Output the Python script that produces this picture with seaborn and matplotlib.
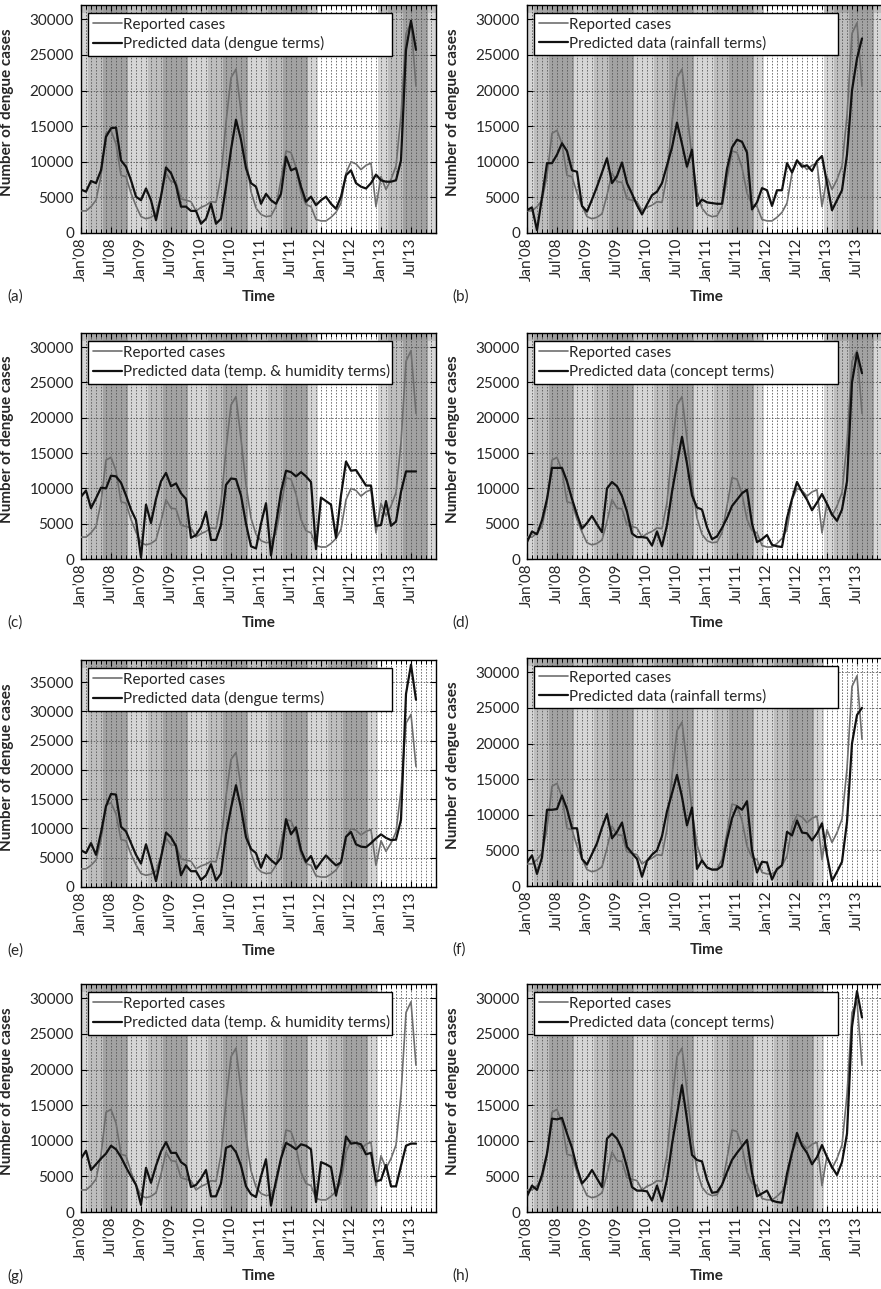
import numpy as np
import matplotlib
matplotlib.use("Agg")
import matplotlib.pyplot as plt
import seaborn as sns

# ---------------------------------------------------------------- DATA
months = list(range(68))            # monthly steps, Jan'08 ... Aug'13
tick_months = list(range(0, 67, 6))
tick_labels = ["Jan’08", "Jul’08", "Jan’09", "Jul’09", "Jan’10", "Jul’10",
               "Jan’11", "Jul’11", "Jan’12", "Jul’12", "Jan’13", "Jul’13"]

reported = [3100, 3100, 3700, 4600, 8000, 14000, 14400, 12500, 8100, 7900,
            5600, 3800, 2300, 2000, 2200, 2700, 5300, 8400, 7200, 7100,
            4800, 4600, 4400, 3100, 3600, 3900, 4400, 4300, 8000, 15500,
            21800, 23000, 17000, 10500, 5800, 3500, 2600, 2300, 2400, 3700,
            7500, 11500, 11300, 9200, 5600, 4000, 3700, 1900, 1700, 1700,
            2200, 2900, 4200, 8400, 10000, 9700, 8900, 9500, 9800, 3700,
            7900, 6100, 7500, 9400, 16500, 28000, 29500, 20600]

pred_a = [6100, 5800, 7300, 7000, 8800, 13500, 14700, 14800, 10200, 9300,
          7400, 5100, 4600, 6250, 4600, 1800, 5100, 9200, 8400, 6700,
          3700, 3700, 3100, 3100, 1300, 2000, 4100, 1300, 2000, 6500,
          11700, 15900, 13100, 9100, 7000, 6500, 4100, 5500, 4600, 4100,
          5500, 10700, 8800, 9100, 6500, 4400, 5100, 3900, 4600, 5100,
          4100, 3400, 5100, 8100, 8800, 7000, 6500, 6250, 7000, 8200,
          7400, 7200, 7200, 7400, 10200, 25700, 29800, 25700]

pred_b = [3200, 3600, 400, 5000, 9800, 9800, 11000, 12600, 11500, 8800,
          8600, 3800, 3000, 4700, 6500, 8500, 10500, 7000, 8000, 9900,
          7000, 5500, 3900, 2600, 4000, 5300, 5800, 7000, 9500, 12000,
          15500, 12500, 9300, 11700, 3800, 4700, 4300, 4200, 4100, 4100,
          9000, 12000, 13100, 12800, 11300, 3300, 4300, 6300, 6000, 3800,
          6000, 6000, 9800, 8500, 10200, 9300, 9500, 8700, 10100, 10800,
          7000, 3200, 4600, 6000, 11000, 20000, 24500, 27300]

pred_c = [8800, 9700, 7200, 8600, 10100, 10000, 11800, 11700, 10800, 9000,
          7000, 5500, 200, 7700, 5100, 8500, 11000, 12200, 10300, 10700,
          9300, 8500, 3000, 3400, 4500, 6700, 2700, 2700, 4800, 10500,
          11400, 11300, 9000, 5000, 1800, 1500, 5000, 7900, 500, 5000,
          9500, 12500, 12300, 11700, 12300, 11700, 10900, 1400, 8700, 8200,
          7700, 3000, 9000, 13800, 12500, 12600, 11500, 10400, 10400, 4700,
          4800, 8200, 4700, 5300, 9500, 12400, 12400, 12400]

pred_d = [2400, 3900, 3500, 5500, 8500, 12900, 12900, 12900, 11000, 8500,
          6300, 4300, 5100, 6100, 4900, 3800, 10000, 10900, 10300, 8900,
          6700, 3600, 3100, 3100, 3000, 1900, 3900, 1800, 4800, 9500,
          13500, 17300, 13500, 9000, 7300, 7000, 4500, 2800, 3200, 4400,
          5800, 7500, 8400, 9300, 9800, 5000, 2400, 2800, 3400, 2000,
          1800, 1700, 5800, 8500, 10900, 9500, 8400, 6900, 8000, 9200,
          7800, 6300, 5400, 7000, 11000, 25000, 29200, 26300]

pred_e = [6300, 5800, 7500, 5500, 9300, 13800, 15900, 15800, 10300, 9500,
          7500, 5500, 4000, 7300, 4300, 1000, 5000, 9300, 8500, 7000,
          2000, 3700, 2700, 2700, 1200, 2000, 3900, 1100, 2300, 9000,
          13500, 17400, 13500, 8500, 6500, 5800, 3300, 5500, 4600, 3900,
          5000, 11600, 9000, 10200, 6300, 4300, 5300, 3100, 4300, 5400,
          4500, 3700, 4200, 8600, 9400, 7300, 6900, 6800, 7500, 8300,
          9000, 8400, 8000, 8100, 11500, 33000, 38000, 32000]

pred_f = [3300, 4300, 1700, 4000, 10700, 10700, 10800, 12700, 10800, 8100,
          8100, 3800, 3000, 4500, 6000, 8200, 10100, 6700, 7600, 8900,
          5500, 4600, 3800, 1300, 3500, 4400, 5000, 7000, 10500, 13000,
          15600, 12500, 8500, 11000, 2400, 3600, 2600, 2300, 2300, 2800,
          6500, 9500, 11200, 10700, 11900, 5000, 1900, 3400, 3300, 900,
          2400, 2900, 7600, 7100, 9200, 7500, 7400, 6400, 7400, 8800,
          4300, 700, 2000, 3400, 9000, 20000, 24000, 25000]

pred_g = [7500, 8600, 5900, 6700, 7500, 8200, 9300, 8800, 7700, 6300,
          5000, 3800, 1000, 6200, 4100, 6500, 8500, 9800, 8300, 8300,
          7000, 6500, 3500, 3800, 4700, 5900, 2200, 2200, 4000, 9000,
          9300, 8400, 6500, 3600, 2500, 2100, 5000, 7400, 900, 4400,
          7500, 9700, 9300, 8800, 9500, 9300, 8800, 1400, 7000, 6700,
          6300, 2300, 5700, 10600, 9600, 9700, 9500, 8100, 8300, 4300,
          4500, 6600, 3600, 3600, 6500, 9300, 9600, 9600]

pred_h = [2200, 3700, 3100, 5200, 8200, 13100, 13000, 13200, 11000, 9000,
          6200, 4000, 4800, 5900, 4700, 3500, 10300, 11000, 10300, 8800,
          6300, 3500, 3000, 3000, 2900, 1600, 3700, 1500, 4600, 9500,
          13700, 17800, 13000, 8000, 7300, 7100, 4500, 2700, 2800, 3800,
          5600, 7300, 8300, 9200, 10100, 5500, 2200, 2600, 3000, 1600,
          1400, 1300, 5400, 8300, 11100, 9300, 8300, 6700, 7700, 9400,
          7700, 6300, 5200, 7000, 11000, 26000, 31000, 27300]

# background shade class per calendar month (1 light, 2 medium, 3 dark)
season_class = [1, 1, 2, 2, 2, 3, 3, 3, 3, 3, 1, 1]
years = [2008, 2009, 2010, 2011, 2012, 2013]

# ---------------------------------------------------------------- STYLE
W, H = 881, 1289
PX_PER_MONTH = 5.0
BAND = {0: "#ffffff", 1: "#d6d6d6", 2: "#bebebe", 3: "#a2a2a2"}
STRIP = {0: "#ffffff", 1: "#bebebe", 2: "#a6a6a6", 3: "#9c9c9c"}
GRAY = "#6f6f6f"
BLACK = "#111111"

sns.set_style("ticks")
plt.rcParams["font.family"] = ["Lato", "DejaVu Sans"]
plt.rcParams["axes.linewidth"] = 1.0

# letter, predicted series, legend text, blank year, y top, y tick top, box (l, t, r, b) px
panels = [
    ("(a)", pred_a, "Predicted data (dengue terms)", 2012, 32000, 30000, (81, 5, 436, 233)),
    ("(b)", pred_b, "Predicted data (rainfall terms)", 2012, 32000, 30000, (527, 5, 886, 233)),
    ("(c)", pred_c, "Predicted data (temp. & humidity terms)", 2012, 32000, 30000, (81, 333, 436, 559)),
    ("(d)", pred_d, "Predicted data (concept terms)", 2012, 32000, 30000, (527, 333, 886, 559)),
    ("(e)", pred_e, "Predicted data (dengue terms)", 2013, 38800, 35000, (81, 660, 436, 887)),
    ("(f)", pred_f, "Predicted data (rainfall terms)", 2013, 32000, 30000, (527, 658, 886, 886)),
    ("(g)", pred_g, "Predicted data (temp. & humidity terms)", 2013, 32000, 30000, (81, 984, 436, 1212)),
    ("(h)", pred_h, "Predicted data (concept terms)", 2013, 32000, 30000, (527, 984, 886, 1212)),
]


def month_classes(blank_year):
    out = []
    for y in years:
        for c in season_class:
            out.append(0 if y == blank_year else c)
    return out


def runs(classes):
    res, start = [], 0
    for i in range(1, len(classes) + 1):
        if i == len(classes) or classes[i] != classes[start]:
            res.append((start, i, classes[start]))
            start = i
    return res


fig = plt.figure(figsize=(W / 100, H / 100), dpi=100)

for letter, pred, pred_label, blank_year, ytop, ytick_top, (l, t, r, b) in panels:
    wpx, hpx = r - l, b - t
    ax = fig.add_axes([l / W, 1 - b / H, wpx / W, hpx / H])

    # seasonal background bands (each month cell slightly offset)
    for s, e, c in runs(month_classes(blank_year)):
        ax.axvspan(s - 0.6, e - 0.6, color=BAND[c], lw=0, zorder=0)
        ax.axvspan(s - 0.6, e - 0.6, ymin=0.965, ymax=1, color=STRIP[c], lw=0, zorder=0.1)

    sns.lineplot(x=months, y=reported, ax=ax, color=GRAY, lw=1.2,
                 label="Reported cases", zorder=3)
    sns.lineplot(x=months, y=pred, ax=ax, color=BLACK, lw=1.6,
                 label=pred_label, zorder=4)

    ax.set_xlim(0, wpx / PX_PER_MONTH)
    ax.set_ylim(0, ytop)
    ax.set_xticks(tick_months)
    ax.set_xticklabels(tick_labels, rotation=90)
    ax.set_xticks(range(0, 72), minor=True)
    ax.set_yticks(range(0, ytick_top + 1, 5000))

    ax.set_axisbelow(True)
    grid_kw = dict(color="0.3", lw=0.55, ls=(0, (2, 2)))
    ax.grid(True, which="major", axis="both", **grid_kw)
    ax.grid(True, which="minor", axis="x", **grid_kw)

    ax.tick_params(which="both", direction="in", top=True, right=True,
                   bottom=True, left=True, color="black")
    ax.tick_params(which="major", length=4, width=0.8, labelsize=11, pad=3)
    ax.tick_params(axis="y", which="major", pad=5)
    ax.tick_params(which="minor", length=3, width=0.7)
    for sp in ax.spines.values():
        sp.set_color("black")

    ax.set_ylabel("Number of dengue cases", fontsize=11, fontweight="bold")
    ax.yaxis.set_label_coords(-67 / wpx, 0.53)
    ax.set_xlabel("Time", fontsize=11, fontweight="bold")
    ax.xaxis.set_label_coords(0.5, -64 / hpx)
    ax.xaxis.label.set_va("center")

    leg = ax.legend(loc="upper left",
                    bbox_to_anchor=(7 / wpx, 0, 304 / wpx, 1 - 8 / hpx),
                    mode="expand", borderaxespad=0, frameon=True,
                    fancybox=False, framealpha=1, edgecolor="black",
                    fontsize=11, handlelength=1.9, handletextpad=0.1,
                    labelspacing=0.3, borderpad=0.3)
    leg.get_frame().set_linewidth(1.0)
    leg.set_zorder(10)

    fig.text((7 if l < 300 else 452) / W, 1 - (b + 64) / H, letter,
             ha="left", va="center", fontsize=11)

fig.savefig("out.png", dpi=100)
